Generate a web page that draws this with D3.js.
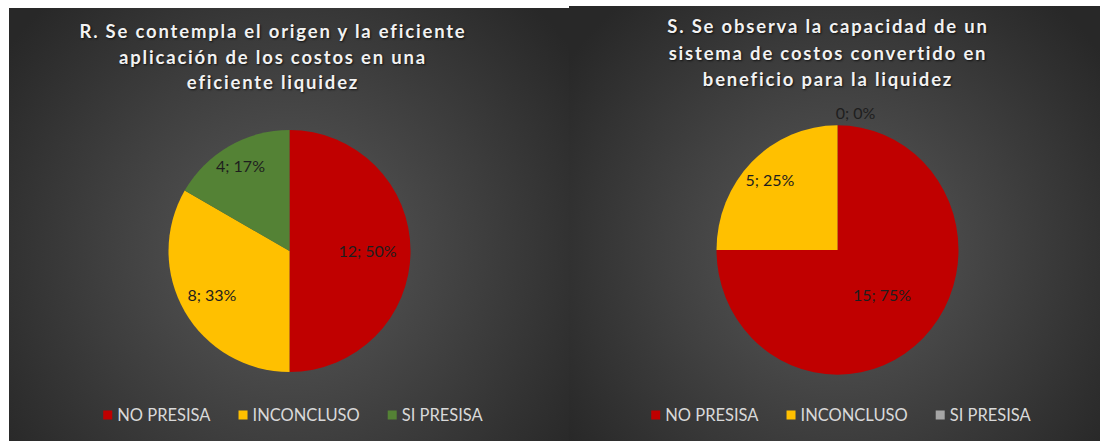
<!DOCTYPE html>
<html>
<head>
<meta charset="utf-8">
<script src="https://cdn.jsdelivr.net/npm/d3@7"></script>
<style>
  body { margin: 0; background: #ffffff; }
  svg { display: block; }
</style>
</head>
<body>
<div id="visual"></div>
<script>

///// DATA /////
var categories = ["NO PRESISA", "INCONCLUSO", "SI PRESISA"];

var valuesR = [12, 8, 4];
var valuesS = [15, 5, 0];

var titleR = ["R. Se contempla el origen y la eficiente",
	"aplicación de los costos en una",
	"eficiente liquidez"];
var titleS = ["S. Se observa la capacidad de un",
	"sistema de costos convertido en",
	"beneficio para la liquidez"];

var colorsR = ["#c00000", "#ffc000", "#548235"];
var colorsS = ["#c00000", "#ffc000", "#a5a5a5"];

///// LAYOUT /////
var width = 1101,
	height = 441;

// each panel: box, pie centre, radius, where the labels sit (fraction of radius)
var panels = [
	{ id: "R", values: valuesR, title: titleR, colors: colorsR,
		x: 9, y: 8, w: 560, h: 433,
		cx: 289.5, cy: 251, r: 121, sy: 1,
		titleX: 273, titleY: 38, lineH: 25.5,
		labelR: [0.645, 0.74, 0.81],
		legendY: 415, legendCx: 293 },
	{ id: "S", values: valuesS, title: titleS, colors: colorsS,
		x: 569, y: 6, w: 531, h: 435,
		cx: 837.5, cy: 250, r: 121, sy: 1.03,
		titleX: 828, titleY: 33, lineH: 26.5,
		labelR: [0.52, 0.79, 1.1],
		legendY: 415, legendCx: 841 }
];

var svg = d3.select("#visual")
	.append("svg")
	.attr("width", width)
	.attr("height", height);

var defs = svg.append("defs");

var pct = d3.format(".0%");

panels.forEach(function(p) {

	///// BACKGROUND /////
	var grad = defs.append("radialGradient")
		.attr("id", "bg" + p.id)
		.attr("gradientUnits", "userSpaceOnUse")
		.attr("cx", p.cx).attr("cy", p.cy)
		.attr("r", p.w * 0.62);
	grad.append("stop").attr("offset", "0%").attr("stop-color", "#5a5a5a");
	grad.append("stop").attr("offset", "100%").attr("stop-color", "#282828");

	svg.append("rect")
		.attr("x", p.x).attr("y", p.y)
		.attr("width", p.w).attr("height", p.h)
		.style("fill", "url(#bg" + p.id + ")");

	///// TITLE /////
	svg.append("g").selectAll("text")
		.data(p.title).enter().append("text")
		.attr("x", p.titleX)
		.attr("y", function(d, i) { return p.titleY + i * p.lineH; })
		.attr("text-anchor", "middle")
		.style("font-family", "Lato, 'Open Sans', sans-serif")
		.style("font-weight", "bold")
		.style("font-size", "18.5px")
		.style("letter-spacing", "1.8px")
		.style("fill", "#f2f2f2")
		.style("text-shadow", "1px 1px 2px rgba(0,0,0,0.7)")
		.text(function(d) { return d; });

	///// PIE /////
	var total = d3.sum(p.values);
	var pie = d3.pie().sort(null).value(function(d) { return d; });
	var arcs = pie(p.values);

	var arc = d3.arc().innerRadius(0).outerRadius(p.r);

	var g = svg.append("g")
		.attr("transform", "translate(" + p.cx + "," + p.cy + ") scale(1," + p.sy + ")");

	g.selectAll("path")
		.data(arcs).enter().append("path")
		.attr("d", arc)
		.style("fill", function(d, i) { return p.colors[i]; });

	// data labels
	var lbl = svg.append("g")
		.attr("transform", "translate(" + p.cx + "," + p.cy + ")");

	lbl.selectAll("text")
		.data(arcs).enter().append("text")
		.attr("transform", function(d, i) {
			var a = (d.startAngle + d.endAngle) / 2;
			var rr = p.r * p.labelR[i];
			var lx = Math.sin(a) * rr;
			var ly = -Math.cos(a) * rr * p.sy;
			if (d.value === 0) lx += 18; // Excel nudges empty slice labels aside
			return "translate(" + lx + "," + ly + ")";
		})
		.attr("text-anchor", "middle")
		.attr("dy", "0.35em")
		.style("font-family", "Lato, sans-serif")
		.style("font-size", "16px")
		.style("fill", "#1e1e1e")
		.text(function(d) { return d.value + "; " + pct(d.value / total); });

	///// LEGEND /////
	var legend = svg.append("g");
	var items = legend.selectAll("g")
		.data(categories).enter().append("g");

	items.append("rect")
		.attr("width", 9).attr("height", 9)
		.attr("y", p.legendY - 4.5)
		.style("fill", function(d, i) { return p.colors[i]; });

	items.append("text")
		.attr("y", p.legendY)
		.attr("dy", "0.36em")
		.style("font-family", "Lato, sans-serif")
		.style("font-size", "16.5px")
		.style("fill", "#d9d9d9")
		.text(function(d) { return d; });

	// lay legend items out side by side, centred under the pie
	var xPos = 0;
	items.each(function() {
		var it = d3.select(this);
		var tw = it.select("text").node().getComputedTextLength();
		it.select("rect").attr("x", xPos);
		it.select("text").attr("x", xPos + 14);
		xPos += 14 + tw + 28;
	});
	var legendW = xPos - 28;
	legend.attr("transform", "translate(" + (p.legendCx - legendW / 2) + ",0)");
});

</script>
</body>
</html>
